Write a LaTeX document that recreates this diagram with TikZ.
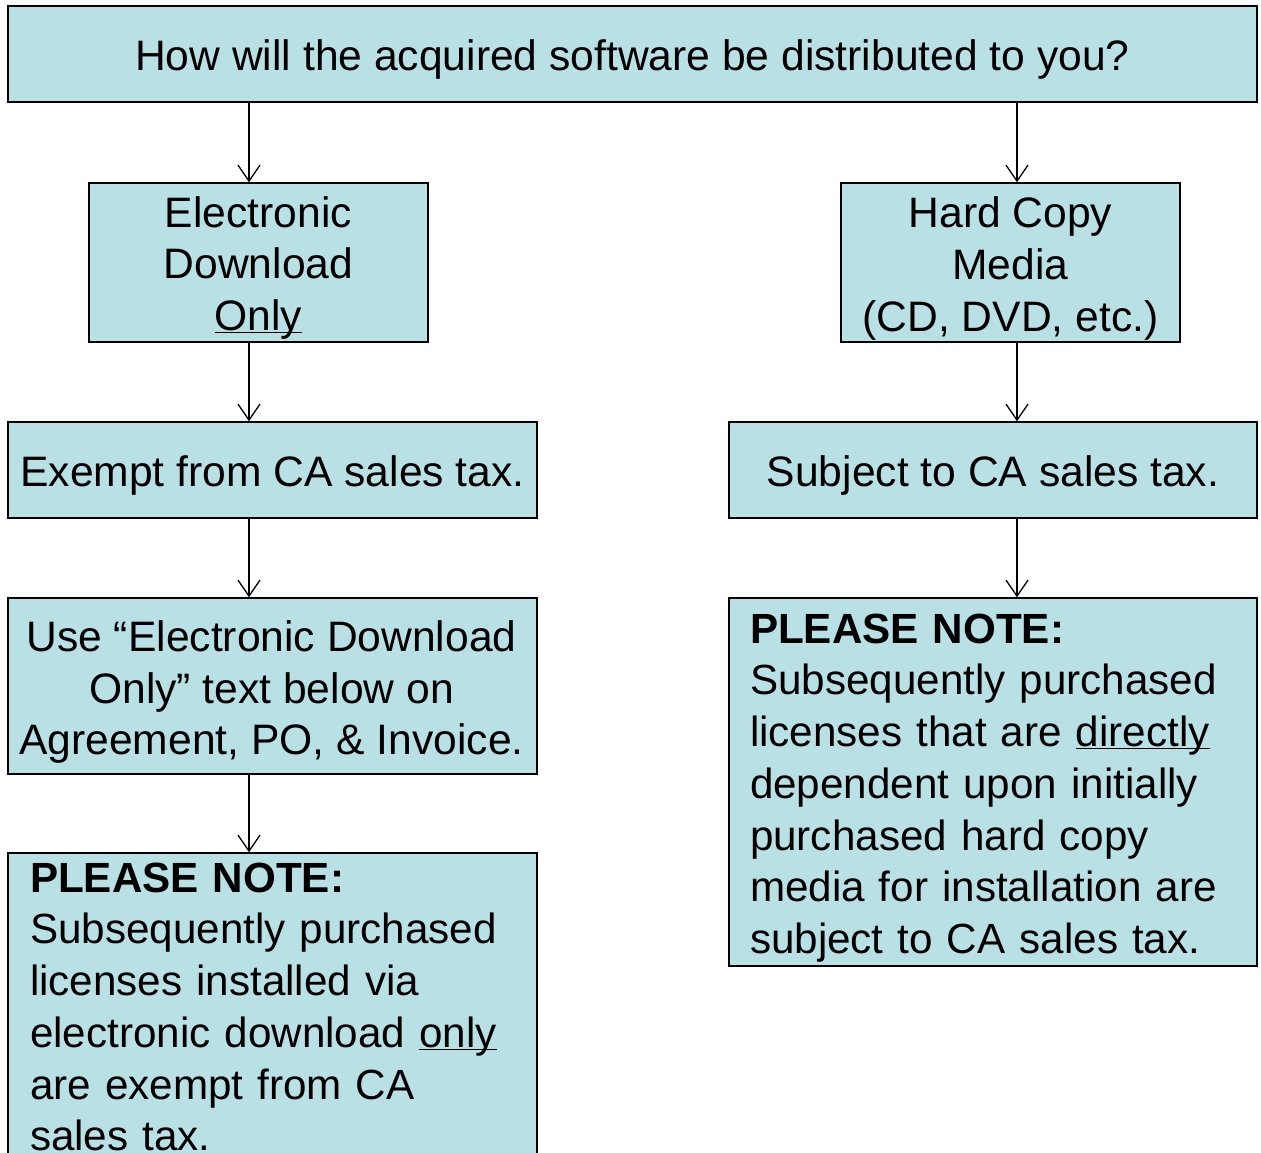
\documentclass[tikz,border=0pt]{standalone}
\usepackage{fontspec}
\setmainfont{Liberation Sans}
\usetikzlibrary{arrows.meta}
\definecolor{boxfill}{RGB}{185,224,228}
\newcommand\myul[1]{\underline{\smash{#1}}}
\begin{document}
\begin{tikzpicture}[x=1pt,y=-1pt,
 box/.style={draw=black, line width=1.5pt, fill=boxfill, rectangle, inner sep=0pt},
 txt/.style={inner sep=0pt, font=\fontsize{42.6}{51.7}\selectfont, align=center},
 notetxt/.style={txt, align=left, font=\fontsize{42.2}{51.7}\selectfont},
 arr/.style={line width=1.3pt, -{Straight Barb[length=16pt,width=22pt,line width=1.3pt]}}]
\useasboundingbox (0,0) rectangle (1261,1152);
\clip (0,0) rectangle (1261,1152);
\fill[white] (0,0) rectangle (1261,1152);
\node[box, minimum width=1249pt, minimum height=96pt,
  label={[txt,yshift=-5pt]center:{How will the acquired software be distributed to you?}}] (q) at (632.5,54) {};
\node[box, minimum width=339pt, minimum height=159pt,
  label={[txt,yshift=-2pt]center:{Electronic\\Download\\\myul{Only}}}] (e) at (258.5,262.5) {};
\node[box, minimum width=339pt, minimum height=159pt,
  label={[txt,yshift=-6pt]center:{Hard Copy\\Media\\(CD, DVD, etc.)}}] (h) at (1010.5,262.5) {};
\node[box, minimum width=529pt, minimum height=96pt,
  label={[txt,yshift=-5pt]center:{Exempt from CA sales tax.}}] (ex) at (272.5,470) {};
\node[box, minimum width=528pt, minimum height=96pt,
  label={[txt,yshift=-5pt]center:{Subject to CA sales tax.}}] (sub) at (993,470) {};
\node[box, minimum width=529pt, minimum height=176pt,
  label={[txt,yshift=-6pt,xshift=-1pt]center:{Use “Electronic Download\\Only” text below on\\Agreement, PO, \& Invoice.}}] (use) at (272.5,686) {};
\node[box, minimum width=529pt, minimum height=306pt,
  label={[notetxt,text width=485pt,yshift=-1pt]center:{\textbf{PLEASE NOTE:}\\Subsequently purchased\\licenses installed via\\electronic download \myul{only}\\are exempt from CA\\sales tax.}}] (nl) at (272.5,1006) {};
\node[box, minimum width=528pt, minimum height=368pt,
  label={[notetxt,text width=486pt,yshift=-6pt]center:{\textbf{PLEASE NOTE:}\\Subsequently purchased\\licenses that are \myul{directly}\\dependent upon initially\\purchased hard copy\\media for installation are\\subject to CA sales tax.}}] (nr) at (993,782) {};
\coordinate (xl) at (249,0);
\coordinate (xr) at (1017,0);
\draw[arr] (q.south -| xl) -- (e.north -| xl);
\draw[arr] (q.south -| xr) -- (h.north -| xr);
\draw[arr] (e.south -| xl) -- (ex.north -| xl);
\draw[arr] (h.south -| xr) -- (sub.north -| xr);
\draw[arr] (ex.south -| xl) -- (use.north -| xl);
\draw[arr] (sub.south -| xr) -- (nr.north -| xr);
\draw[arr] (use.south -| xl) -- (nl.north -| xl);
\end{tikzpicture}
\end{document}
